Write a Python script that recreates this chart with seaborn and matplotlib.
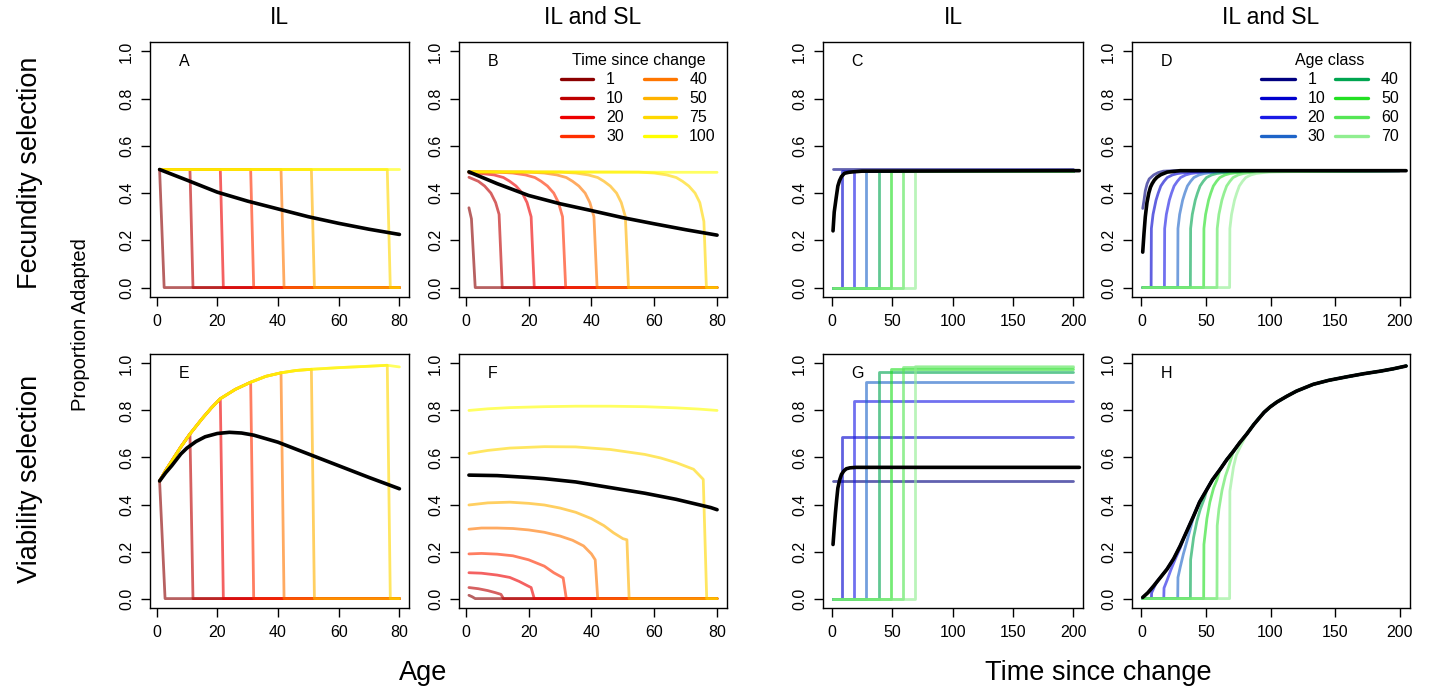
import numpy as np
import pandas as pd
import matplotlib
matplotlib.use('Agg')
import matplotlib.pyplot as plt
import seaborn as sns
from matplotlib.lines import Line2D

sns.set_style('ticks')
plt.rcParams['font.family'] = ['Liberation Sans', 'DejaVu Sans']
plt.rcParams['text.color'] = 'black'
plt.rcParams['axes.labelcolor'] = 'black'
plt.rcParams['xtick.color'] = 'black'
plt.rcParams['ytick.color'] = 'black'

# ---------------- data ----------------
times_since_change = [1, 10, 20, 30, 40, 50, 75, 100]
time_colors = ['#8B0000', '#BD0000', '#EE0000', '#FF2F00', '#FF7600', '#FFB200', '#FFD800', '#FFFF00']
age_classes = [1, 10, 20, 30, 40, 50, 60, 70]
age_colors = ['#000080', '#0000CD', '#1A1AE6', '#1E64C8', '#00A550', '#22E022', '#55E655', '#90EE90']

age_ticks = [0, 20, 40, 60, 80]
time_ticks = [0, 50, 100, 150, 200]
y_ticks = [0.0, 0.2, 0.4, 0.6, 0.8, 1.0]
y_ticklabels = ['0.0', '0.2', '0.4', '0.6', '0.8', '1.0']

# Panel A (fecundity, IL): step curves at 0.5 dropping to 0
A_drop_top = [1, 11, 21, 31, 41, 51, 76]
A_drop_bottom = [2.5, 12, 22, 32, 42, 52, 77]
A_level = 0.5
A_mean_age = [1, 10, 20, 30, 40, 50, 60, 70, 80]
A_mean_val = [0.5, 0.455, 0.404, 0.366, 0.333, 0.30, 0.272, 0.247, 0.225]

# Panel B (fecundity, IL and SL)
B_age = [
    [1, 1.8, 3, 80],
    [1, 4, 6, 8, 9.5, 10.6, 11.6, 80],
    [1, 5, 9, 12, 14, 16, 18, 19.5, 20.8, 21.8, 80],
    [1, 10, 15, 19, 22, 24, 26, 28, 29.5, 30.8, 31.8, 80],
    [1, 20, 25, 29, 32, 34, 36, 38, 39.5, 40.8, 41.8, 80],
    [1, 30, 35, 39, 42, 44, 46, 48, 49.5, 50.8, 51.8, 80],
    [1, 55, 60, 64, 67, 69, 71, 73, 74.5, 75.8, 76.6, 80],
    [1, 40, 80],
]
B_val = [
    [0.338, 0.291, 0, 0],
    [0.467, 0.45, 0.43, 0.40, 0.36, 0.31, 0, 0],
    [0.485, 0.483, 0.477, 0.466, 0.45, 0.43, 0.40, 0.36, 0.30, 0, 0],
    [0.49, 0.489, 0.485, 0.477, 0.466, 0.45, 0.43, 0.40, 0.36, 0.30, 0, 0],
    [0.49, 0.489, 0.485, 0.477, 0.466, 0.45, 0.43, 0.40, 0.36, 0.30, 0, 0],
    [0.49, 0.489, 0.485, 0.477, 0.466, 0.45, 0.43, 0.40, 0.36, 0.30, 0, 0],
    [0.49, 0.489, 0.485, 0.477, 0.466, 0.45, 0.43, 0.40, 0.36, 0.28, 0, 0],
    [0.49, 0.489, 0.488],
]
B_mean_age = [1, 10, 20, 30, 40, 50, 60, 70, 80]
B_mean_val = [0.49, 0.44, 0.39, 0.355, 0.326, 0.296, 0.27, 0.245, 0.222]

# Panel E (viability, IL): common rising envelope, then drop to 0
E_env_age = [1, 3, 5, 8, 11, 15, 18, 21, 26, 31, 36, 41, 46, 51, 60, 70, 76, 80]
E_env_val = [0.5, 0.545, 0.585, 0.645, 0.70, 0.765, 0.81, 0.85, 0.89, 0.92, 0.945, 0.96,
             0.97, 0.975, 0.982, 0.988, 0.992, 0.985]
E_drop_top = [1, 11, 21, 31, 41, 51, 76]
E_drop_bottom = [2.8, 12, 22, 32, 42, 52, 77]
E_mean_age = [1, 3, 5, 8, 10, 13, 16, 20, 24, 28, 32, 40, 50, 60, 70, 80]
E_mean_val = [0.5, 0.535, 0.565, 0.615, 0.64, 0.668, 0.688, 0.702, 0.707, 0.704, 0.695,
              0.665, 0.615, 0.565, 0.515, 0.467]

# Panel F (viability, IL and SL)
F_age = [
    [1, 2, 3, 80],
    [1, 4, 7, 9.5, 11.2, 12, 80],
    [1, 5, 10, 14, 17, 19.6, 20.8, 21.8, 80],
    [1, 5, 10, 15, 20, 25, 28, 31, 32, 80],
    [1, 5, 10, 15, 20, 25, 30, 34, 37.5, 40, 41.2, 42, 80],
    [1, 7, 14, 20, 25, 30, 35, 40, 44, 47, 50, 51.3, 52, 80],
    [1, 7, 14, 25, 35, 46, 57, 62, 67, 72.5, 75.6, 76.7, 80],
    [1, 7, 14, 25, 35, 46, 57, 67, 74, 80],
]
F_val = [
    [0.014, 0.008, 0, 0],
    [0.047, 0.042, 0.034, 0.025, 0.018, 0, 0],
    [0.11, 0.108, 0.10, 0.09, 0.073, 0.055, 0.047, 0, 0],
    [0.19, 0.192, 0.189, 0.182, 0.165, 0.138, 0.11, 0.088, 0, 0],
    [0.295, 0.30, 0.30, 0.298, 0.292, 0.282, 0.266, 0.248, 0.224, 0.19, 0.165, 0, 0],
    [0.398, 0.407, 0.41, 0.405, 0.398, 0.385, 0.367, 0.34, 0.31, 0.28, 0.255, 0.25, 0, 0],
    [0.617, 0.63, 0.64, 0.646, 0.645, 0.634, 0.613, 0.598, 0.578, 0.55, 0.507, 0, 0],
    [0.80, 0.807, 0.812, 0.816, 0.818, 0.818, 0.816, 0.811, 0.806, 0.80],
]
F_mean_age = [1, 10, 20, 25, 35, 46, 57, 67, 78, 80]
F_mean_val = [0.525, 0.523, 0.515, 0.51, 0.496, 0.472, 0.448, 0.422, 0.387, 0.378]

# Panels C and G (IL, by age class): jump from 0 to a plateau
C_jump = [8.3, 18.3, 28.5, 38.8, 48.7, 59.0, 69.2]
C_level = [0.5, 0.495, 0.495, 0.495, 0.495, 0.495, 0.495, 0.495]
C_mean_t = [1, 2, 3.6, 5, 6.4, 8, 10.5, 14, 17.5, 25, 205]
C_mean_v = [0.24, 0.32, 0.38, 0.43, 0.453, 0.47, 0.484, 0.488, 0.49, 0.493, 0.495]

G_jump = [8.3, 18.3, 28.5, 38.8, 48.7, 59.0, 69.2]
G_level = [0.5, 0.685, 0.84, 0.923, 0.962, 0.977, 0.985, 0.99]
G_mean_t = [1, 2, 3, 4, 5, 6.5, 8, 10, 12, 15, 20, 205]
G_mean_v = [0.23, 0.30, 0.365, 0.42, 0.47, 0.505, 0.528, 0.543, 0.552, 0.556, 0.558, 0.558]

# Panel D (fecundity, IL and SL, by age class)
D_t = [
    [1, 2, 3, 4.4, 6, 9.5, 13, 17, 25, 200],
    [1, 7.5, 7.7, 9.0, 11.3, 13.0, 15.0, 17.5, 20.0, 24.0, 28.0, 38.0, 200],
    [1, 17.8, 18.0, 19.3, 21.6, 23.3, 25.3, 27.8, 30.3, 34.3, 38.3, 48.3, 200],
    [1, 28.1, 28.3, 29.6, 31.9, 33.6, 35.6, 38.1, 40.6, 44.6, 48.6, 58.6, 200],
    [1, 37.9, 38.1, 39.4, 41.7, 43.4, 45.4, 47.9, 50.4, 54.4, 58.4, 68.4, 200],
    [1, 48.2, 48.4, 49.7, 52.0, 53.7, 55.7, 58.2, 60.7, 64.7, 68.7, 78.7, 200],
    [1, 58.5, 58.7, 60.0, 62.3, 64.0, 66.0, 68.5, 71.0, 75.0, 79.0, 89.0, 200],
    [1, 68.3, 68.5, 69.8, 72.1, 73.8, 75.8, 78.3, 80.8, 84.8, 88.8, 98.8, 200],
]
D_a1_v = [0.335, 0.37, 0.41, 0.44, 0.46, 0.477, 0.487, 0.493, 0.495, 0.495]
D_rise_v = [0, 0, 0.25, 0.31, 0.37, 0.40, 0.43, 0.45, 0.466, 0.477, 0.483, 0.49, 0.495]
D_mean_t = [1, 2, 3, 4.3, 5.7, 7, 8.3, 10, 12, 15, 20, 30, 205]
D_mean_v = [0.15, 0.23, 0.30, 0.36, 0.40, 0.425, 0.44, 0.455, 0.467, 0.478, 0.489, 0.495, 0.495]

# Panel H (viability, IL and SL, by age class)
H_mean_t = [1, 5, 9.5, 14, 19.8, 25, 30, 35, 40.4, 45, 50.7, 55, 61, 66, 71.3, 76, 81.6, 87,
            91.9, 95, 99.7, 105, 112.5, 120, 133, 145, 159, 172, 185, 195, 205]
H_mean_v = [0.005, 0.025, 0.054, 0.085, 0.125, 0.17, 0.224, 0.285, 0.351, 0.41, 0.464, 0.505,
            0.55, 0.59, 0.627, 0.662, 0.70, 0.74, 0.772, 0.792, 0.815, 0.836, 0.86, 0.882,
            0.911, 0.928, 0.943, 0.956, 0.967, 0.977, 0.989]
H_rise_t = [
    [1, 7.7, 7.9, 10, 12],
    [1, 17.3, 17.5, 20, 23, 26, 30, 33],
    [1, 28.1, 28.3, 30.1, 32.5, 35.3, 38.5],
    [1, 37.9, 38.1, 40.4, 43, 45.6, 49],
    [1, 48.2, 48.4, 50.7, 53, 55.9, 58.5],
    [1, 58.5, 58.7, 60, 62.4, 65, 67.5],
    [1, 68.3, 68.5, 71.3, 73.5, 76.5],
]
H_rise_v = [
    [0, 0, 0.025, 0.05, 0.072],
    [0, 0, 0.045, 0.08, 0.125, 0.165, 0.215, 0.26],
    [0, 0, 0.09, 0.135, 0.19, 0.245, 0.31],
    [0, 0, 0.165, 0.26, 0.33, 0.38, 0.43],
    [0, 0, 0.23, 0.34, 0.41, 0.47, 0.505],
    [0, 0, 0.31, 0.38, 0.46, 0.52, 0.56],
    [0, 0, 0.457, 0.56, 0.61, 0.645],
]

# ---------------- layout ----------------
W, H = 1429, 690
fig = plt.figure(figsize=(W / 100, H / 100), dpi=100)
cols = [(150, 409), (459, 727), (823, 1083), (1132, 1410)]
rows = [(42, 297), (354, 608)]
LW_C, LW_K, ALPHA = 2.0, 2.6, 0.62


def make_ax(r, c):
    l, rr = cols[c]
    t, b = rows[r]
    return fig.add_axes([l / W, 1 - b / H, (rr - l) / W, (b - t) / H])


def draw(ax, x, y, color, lw=LW_C, alpha=ALPHA, z=2):
    df = pd.DataFrame({'x': x, 'y': y})
    sns.lineplot(data=df, x='x', y='y', ax=ax, color=color, lw=lw, alpha=alpha,
                 sort=False, estimator=None, legend=False, zorder=z)


axes = {}
for r in range(2):
    for c in range(4):
        axes[(r, c)] = make_ax(r, c)

# A
ax = axes[(0, 0)]
for i, t in enumerate(times_since_change):
    if i < len(A_drop_top):
        draw(ax, [1, A_drop_top[i], A_drop_bottom[i], 80], [A_level, A_level, 0, 0], time_colors[i])
    else:
        draw(ax, [1, 80], [A_level, A_level], time_colors[i])
draw(ax, A_mean_age, A_mean_val, 'black', lw=LW_K, alpha=1, z=5)

# B
ax = axes[(0, 1)]
for i in range(len(times_since_change)):
    draw(ax, B_age[i], B_val[i], time_colors[i])
draw(ax, B_mean_age, B_mean_val, 'black', lw=LW_K, alpha=1, z=5)

# E
ax = axes[(1, 0)]
for i in range(len(times_since_change)):
    if i < len(E_drop_top):
        xs = [a for a in E_env_age if a <= E_drop_top[i]]
        ys = E_env_val[:len(xs)]
        draw(ax, xs + [E_drop_bottom[i], 80], ys + [0, 0], time_colors[i])
    else:
        draw(ax, E_env_age, E_env_val, time_colors[i])
draw(ax, E_mean_age, E_mean_val, 'black', lw=LW_K, alpha=1, z=5)

# F
ax = axes[(1, 1)]
for i in range(len(times_since_change)):
    draw(ax, F_age[i], F_val[i], time_colors[i])
draw(ax, F_mean_age, F_mean_val, 'black', lw=LW_K, alpha=1, z=5)

# C and G
for (key, jumps, levels, mt, mv) in [((0, 2), C_jump, C_level, C_mean_t, C_mean_v),
                                     ((1, 2), G_jump, G_level, G_mean_t, G_mean_v)]:
    ax = axes[key]
    draw(ax, [1, 200], [levels[0], levels[0]], age_colors[0])
    for i, j in enumerate(jumps):
        draw(ax, [1, j, j, 200], [0, 0, levels[i + 1], levels[i + 1]], age_colors[i + 1])
    draw(ax, mt, mv, 'black', lw=LW_K, alpha=1, z=5)

# D
ax = axes[(0, 3)]
draw(ax, D_t[0], D_a1_v, age_colors[0])
for i in range(1, len(age_classes)):
    draw(ax, D_t[i], D_rise_v, age_colors[i])
draw(ax, D_mean_t, D_mean_v, 'black', lw=LW_K, alpha=1, z=5)

# H
ax = axes[(1, 3)]
draw(ax, H_mean_t, H_mean_v, age_colors[0])
for i in range(len(H_rise_t)):
    last = H_rise_t[i][-1]
    xs = H_rise_t[i] + [t for t in H_mean_t if t > last]
    ys = H_rise_v[i] + [v for t, v in zip(H_mean_t, H_mean_v) if t > last]
    draw(ax, xs, ys, age_colors[i + 1])
draw(ax, H_mean_t, H_mean_v, 'black', lw=LW_K, alpha=1, z=5)

# ---------------- axes styling ----------------
letters = ['A', 'B', 'C', 'D', 'E', 'F', 'G', 'H']
for r in range(2):
    for c in range(4):
        ax = axes[(r, c)]
        ax.set_xlabel('')
        ax.set_ylabel('')
        if c < 2:
            ax.set_xlim(-2.16, 83.16)
            ax.set_xticks(age_ticks)
            ax.set_xticklabels([str(v) for v in age_ticks])
        else:
            ax.set_xlim(-7.3, 208)
            ax.set_xticks(time_ticks)
            ax.set_xticklabels([str(v) for v in time_ticks])
        ax.set_ylim(-0.04, 1.04)
        ax.set_yticks(y_ticks)
        ax.set_yticklabels(y_ticklabels, rotation=90, va='center')
        for s in ax.spines.values():
            s.set_visible(True)
            s.set_linewidth(1.0)
            s.set_color('black')
        ax.tick_params(axis='both', direction='out', length=6.5, width=1.0,
                       labelsize=11.5, color='black', labelcolor='black')
        ax.tick_params(axis='x', pad=6)
        ax.tick_params(axis='y', pad=5)
        width_px = cols[c][1] - cols[c][0]
        ax.text(34 / width_px, 1 - 20 / 255, letters[r * 4 + c], transform=ax.transAxes,
                fontsize=11.5, ha='center', va='center', color='black')

# legends
h_time = [Line2D([], [], color=col, lw=2.4) for col in time_colors]
leg = axes[(0, 1)].legend(h_time, [str(t) for t in times_since_change], ncol=2,
                          title='Time since change', frameon=False, fontsize=11.5,
                          title_fontsize=11.5, loc='upper right', bbox_to_anchor=(1.0, 1.0),
                          borderaxespad=0.3, handlelength=2.0, handletextpad=0.8,
                          columnspacing=1.3, labelspacing=0.25)
h_age = [Line2D([], [], color=col, lw=2.4) for col in age_colors]
leg2 = axes[(0, 3)].legend(h_age, [str(a) for a in age_classes], ncol=2,
                           title='Age class', frameon=False, fontsize=11.5,
                           title_fontsize=11.5, loc='upper right', bbox_to_anchor=(1.0, 1.0),
                           borderaxespad=0.3, handlelength=2.1, handletextpad=0.8,
                           columnspacing=0.6, labelspacing=0.25)
for lg in (leg, leg2):
    for txt in lg.get_texts():
        txt.set_color('black')
    lg.get_title().set_color('black')

# titles and labels
col_titles = ['IL', 'IL and SL', 'IL', 'IL and SL']
for c, title in enumerate(col_titles):
    cx = (cols[c][0] + cols[c][1]) / 2
    fig.text(cx / W, 1 - 18 / H, title, fontsize=16.5, ha='center', va='center')
fig.text(30 / W, 1 - 173 / H, 'Fecundity selection', rotation=90, fontsize=19.5,
         ha='center', va='center')
fig.text(30 / W, 1 - 479 / H, 'Viability selection', rotation=90, fontsize=19.5,
         ha='center', va='center')
fig.text(80 / W, 1 - 325 / H, 'Proportion Adapted', rotation=90, fontsize=14.5,
         ha='center', va='center')
fig.text(423 / W, 1 - 673 / H, 'Age', fontsize=19.5, ha='center', va='center')
fig.text(1098 / W, 1 - 673 / H, 'Time since change', fontsize=19.5, ha='center', va='center')

fig.savefig('out.png', dpi=100)
